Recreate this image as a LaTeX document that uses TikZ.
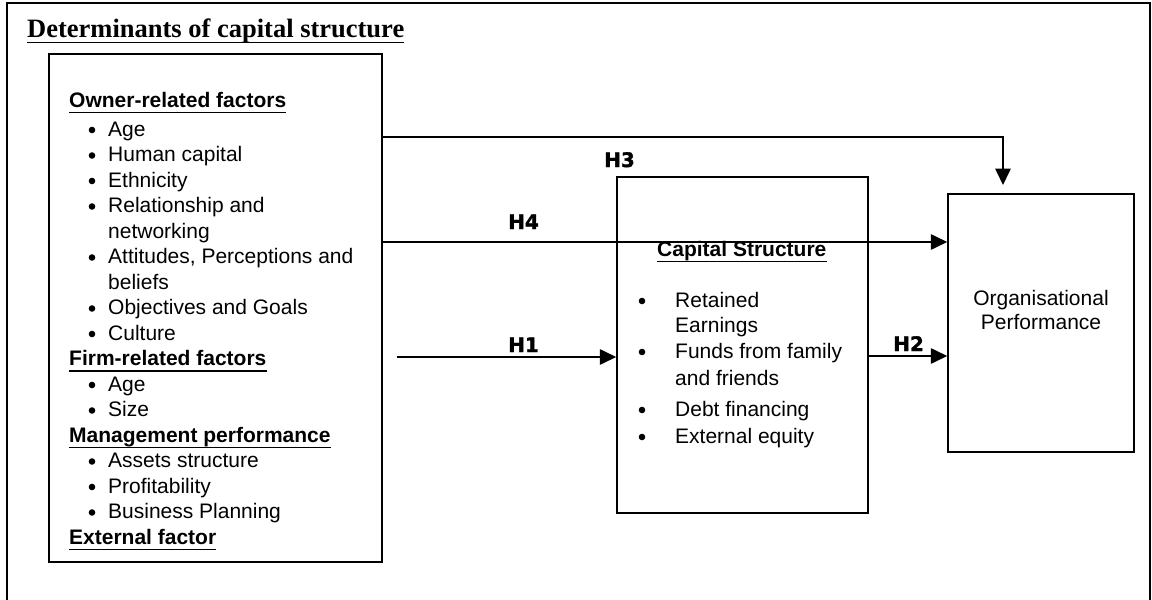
\documentclass[tikz,border=0pt]{standalone}
\usepackage{fontspec}
\setmainfont{Liberation Sans}
\newfontfamily\titlefont{Liberation Serif}
\newfontfamily\hfont[BoldFeatures={FakeBold=1.6}]{DejaVu Sans}
\usetikzlibrary{arrows.meta}

% header text with a rule drawn under its baseline
\newcommand\ulnode[5][hdr]{%
  \node[#1] (#2) at (#3,#4) {#5};
  \draw[uline] ([yshift=-5.5pt]#2.base west) -- ([yshift=-5.5pt]#2.base east);}
% bulleted line of text
\newcommand\bitem[5]{%
  \fill (#2-#5,#4-6) circle (3.3pt);
  \node[body] (#1) at (#2,#4) {#3};}

\begin{document}
\begin{tikzpicture}[x=1pt,y=-1pt,
  box/.style={draw,line width=1.5pt,inner sep=0pt},
  body/.style={inner sep=0pt,anchor=base west,font=\fontsize{21}{25}\selectfont},
  hdr/.style={body,font=\fontsize{21}{25}\selectfont\bfseries},
  ttl/.style={inner sep=0pt,anchor=base west,font=\fontsize{26.5}{30}\selectfont\titlefont\bfseries},
  hlab/.style={inner sep=0pt,anchor=base west,font=\fontsize{20}{24}\selectfont\hfont\bfseries},
  uline/.style={line width=1.6pt},
  conn/.style={line width=1.6pt,-{Triangle[length=16.5pt,width=15.5pt]}}]

\useasboundingbox (0,0) rectangle (1152,600);

% open outer frame
\draw[line width=1.3pt] (7,600) -- (7,3) -- (1150,3) -- (1150,600);

\ulnode[ttl]{title}{27}{37}{Determinants of capital structure}

% boxes
\node[box,minimum width=333pt,minimum height=508pt] (det) at (215.5,308) {};
\node[box,minimum width=251pt,minimum height=336pt] (cs) at (742.5,345) {};
\node[box,minimum width=186pt,minimum height=258pt] (op) at (1041,323) {};

% determinants
\ulnode{own}{69}{107}{Owner-related factors}
\bitem{o1}{108}{Age}{136}{16}
\bitem{o2}{108}{Human capital}{161.5}{16}
\bitem{o3}{108}{Ethnicity}{187}{16}
\bitem{o4}{108}{Relationship and}{212.5}{16}
\node[body] (o4b) at (108,238) {networking};
\bitem{o5}{108}{Attitudes, Perceptions and}{263.5}{16}
\node[body] (o5b) at (108,289) {beliefs};
\bitem{o6}{108}{Objectives and Goals}{314.5}{16}
\bitem{o7}{108}{Culture}{340}{16}
\ulnode{firm}{69}{365.5}{Firm-related factors}
\bitem{f1}{108}{Age}{391}{16}
\bitem{f2}{108}{Size}{416.5}{16}
\ulnode{mgmt}{69}{442}{Management performance}
\bitem{m1}{108}{Assets structure}{467.5}{16}
\bitem{m2}{108}{Profitability}{493}{16}
\bitem{m3}{108}{Business Planning}{518.5}{16}
\ulnode{ext}{69}{544}{External factor}

% capital structure
\ulnode{csh}{657}{256}{Capital Structure}
\bitem{c1}{675}{Retained}{307}{33}
\node[body] (c1b) at (675,332) {Earnings};
\bitem{c2}{675}{Funds from family}{358}{33}
\node[body] (c2b) at (675,385) {and friends};
\bitem{c3}{675}{Debt financing}{416}{33}
\bitem{c4}{675}{External equity}{443}{33}

% organisational performance
\node[body,anchor=base] (op1) at (1041,305) {Organisational};
\node[body,anchor=base] (op2) at (1041,329) {Performance};

% connectors
\coordinate (topbend) at (1003,137);
\coordinate (topend) at (1003,185);
\coordinate (h4y) at (0,242);
\coordinate (h1s) at (397,357);
\coordinate (h2y) at (0,356);
\draw[conn] (det.east |- topbend) -- (topbend) -- (topend);
\draw[conn] (det.east |- h4y) -- (op.west |- h4y);
\draw[conn] (h1s) -- (cs.west |- h1s);
\draw[conn] (cs.east |- h2y) -- (op.west |- h2y);

% hypothesis labels
\node[hlab] (H3) at (604,167) {H3};
\node[hlab] (H4) at (508,229) {H4};
\node[hlab] (H1) at (508,352) {H1};
\node[hlab] (H2) at (893,351) {H2};
\end{tikzpicture}
\end{document}
